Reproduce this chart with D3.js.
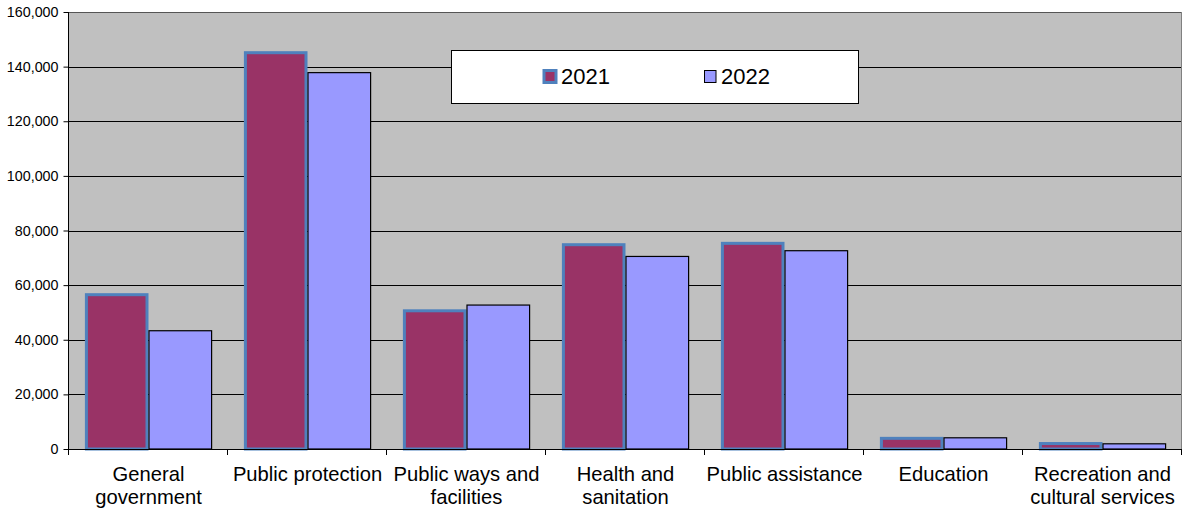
<!DOCTYPE html>
<html>
<head>
<meta charset="utf-8">
<script src="https://cdn.jsdelivr.net/npm/d3@7"></script>
<style>
  html, body { margin: 0; padding: 0; background: #fff; }
  svg { display: block; font-family: "Liberation Sans", Arial, sans-serif; }
</style>
</head>
<body>
<svg id="chart" width="1184" height="510"></svg>
<script>
const categories = [
  ["General", "government"],
  ["Public protection"],
  ["Public ways and", "facilities"],
  ["Health and", "sanitation"],
  ["Public assistance"],
  ["Education"],
  ["Recreation and", "cultural services"]
];
const seriesNames = ["2021", "2022"];
const values2021 = [56500, 145100, 50600, 74800, 75300, 3900, 2000];
const values2022 = [43300, 137800, 52700, 70500, 72600, 4100, 1900];
const yTicks = [0, 20000, 40000, 60000, 80000, 100000, 120000, 140000, 160000];

const svg = d3.select("#chart");
const m = { left: 68, right: 1181, top: 12, bottom: 449 };

const catKeys = categories.map(c => c.join(" "));
const x0 = d3.scaleBand().domain(catKeys).range([m.left + 1, m.right + 1]).paddingInner(0.2).paddingOuter(0.1);
const x1 = d3.scaleBand().domain(seriesNames).range([0, x0.bandwidth()]).padding(0);
const y = d3.scaleLinear().domain([0, 160000]).range([m.bottom, m.top]);

// plot background
svg.append("rect")
  .attr("x", m.left).attr("y", m.top)
  .attr("width", m.right - m.left).attr("height", m.bottom - m.top)
  .attr("fill", "#c0c0c0");

// gridlines
svg.append("g").selectAll("line").data(yTicks.filter(t => t > 0)).join("line")
  .attr("x1", m.left).attr("x2", m.right)
  .attr("y1", d => Math.round(y(d)) + 0.5).attr("y2", d => Math.round(y(d)) + 0.5)
  .attr("stroke", d => d === 160000 ? "#555" : "#000").attr("stroke-width", 1);

// right border
svg.append("line")
  .attr("x1", m.right + 0.5).attr("x2", m.right + 0.5)
  .attr("y1", m.top).attr("y2", m.bottom)
  .attr("stroke", "#808080");

// bars
const data = catKeys.map((k, i) => ({ key: k, vals: [values2021[i], values2022[i]] }));
const fills = { "2021": "#993366", "2022": "#9999ff" };
const strokes = { "2021": "#4f81bd", "2022": "#000" };
const strokeW = { "2021": 3, "2022": 1.2 };

const groups = svg.append("g").selectAll("g").data(data).join("g")
  .attr("transform", d => `translate(${x0(d.key)},0)`);
groups.selectAll("rect").data(d => seriesNames.map((s, j) => ({ s, v: d.vals[j] }))).join("rect")
  .attr("x", d => x1(d.s) + (d.s === "2021" ? 1.5 : 0.5))
  .attr("width", d => x1.bandwidth() - (d.s === "2021" ? 3 : 1))
  .attr("y", d => y(d.v))
  .attr("height", d => y(0) - y(d.v))
  .attr("fill", d => fills[d.s])
  .attr("stroke", d => strokes[d.s])
  .attr("stroke-width", d => strokeW[d.s]);

// y axis
const yAxis = d3.axisLeft(y).tickValues(yTicks).tickSize(5).tickPadding(5).tickFormat(d3.format(","));
const ya = svg.append("g").attr("transform", `translate(${m.left + 0.5},0)`).call(yAxis);
ya.select(".domain").attr("stroke", "#000").attr("d", `M0,${m.top}V${m.bottom}`);
ya.selectAll(".tick line").attr("stroke", "#000");
ya.selectAll(".tick text").attr("fill", "#000").style("font-size", "14.3px")
  .style("font-family", "'Liberation Sans', Arial, sans-serif");

// x axis line
svg.append("line")
  .attr("x1", m.left).attr("x2", m.right)
  .attr("y1", m.bottom + 0.5).attr("y2", m.bottom + 0.5)
  .attr("stroke", "#000");

// x ticks at category boundaries
const step = x0.step();
const boundaries = d3.range(categories.length + 1).map(i => m.left + i * step);
svg.append("g").selectAll("line").data(boundaries).join("line")
  .attr("x1", d => Math.round(d) + 0.5).attr("x2", d => Math.round(d) + 0.5)
  .attr("y1", m.bottom).attr("y2", m.bottom + 6)
  .attr("stroke", "#000");

// x labels
const labels = svg.append("g").selectAll("text").data(categories).join("text")
  .attr("x", (d, i) => x0(catKeys[i]) + x0.bandwidth() / 2)
  .attr("y", 481)
  .attr("text-anchor", "middle")
  .style("font-size", "20.2px")
  .attr("fill", "#000");
labels.selectAll("tspan").data(d => d).join("tspan")
  .attr("x", function() { return d3.select(this.parentNode).attr("x"); })
  .attr("dy", (d, i) => i === 0 ? 0 : 23)
  .text(d => d);

// legend
const lg = svg.append("g");
lg.append("rect").attr("x", 451.5).attr("y", 50.5).attr("width", 407).attr("height", 53)
  .attr("fill", "#fff").attr("stroke", "#000").attr("stroke-width", 1);
const legendItems = [
  { s: "2021", sx: 543, tx: 561 },
  { s: "2022", sx: 704.5, tx: 721 }
];
legendItems.forEach(it => {
  if (it.s === "2021") {
    lg.append("rect").attr("x", it.sx + 1).attr("y", 70.5).attr("width", 12).attr("height", 12)
      .attr("fill", fills[it.s]).attr("stroke", strokes[it.s]).attr("stroke-width", 3);
  } else {
    lg.append("rect").attr("x", it.sx).attr("y", 70.5).attr("width", 11.5).attr("height", 12)
      .attr("fill", fills[it.s]).attr("stroke", "#000").attr("stroke-width", 1);
  }
  lg.append("text").attr("x", it.tx).attr("y", 84).style("font-size", "22px")
    .attr("fill", "#000").text(it.s);
});
</script>
</body>
</html>
